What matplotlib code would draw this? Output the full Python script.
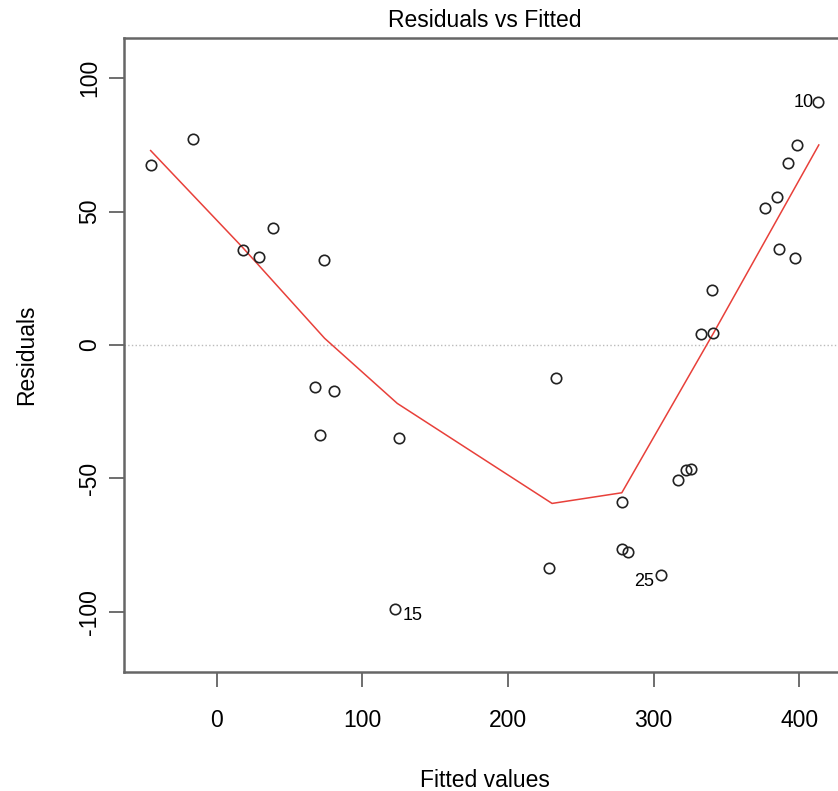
import matplotlib
matplotlib.use("Agg")
import matplotlib.pyplot as plt

plt.rcParams['font.family'] = ['Liberation Sans', 'DejaVu Sans']
plt.rcParams['axes.unicode_minus'] = False

# fitted values and residuals
fitted = [-45.5, -16.7, 17.8, 28.6, 38.2, 73.4, 67.4, 80.5, 70.9, 125.0,
          122.1, 232.7, 278.0, 316.4, 322.4, 325.6, 278.5, 282.6, 228.4, 305.0,
          340.0, 332.6, 340.9, 376.3, 385.0, 385.8, 397.1, 392.4, 398.2, 413.1]
residuals = [67.6, 77.2, 35.6, 33.1, 43.7, 31.9, -15.6, -17.1, -33.6, -34.9,
             -99.1, -12.4, -59.0, -50.6, -46.9, -46.6, -76.3, -77.5, -83.6, -86.4,
             20.6, 4.0, 4.4, 51.4, 55.6, 36.0, 32.6, 68.4, 75.0, 91.0]

# smoother line
smooth_x = [-45.5, 17.8, 74.0, 123.9, 230.2, 278.1, 341.0, 413.4]
smooth_y = [72.9, 36.5, 2.5, -21.9, -59.4, -55.4, 4.4, 75.0]

# labelled observations
obs_labels = ["10", "15", "25"]
obs_x = [413.1, 122.1, 305.0]
obs_y = [91.0, -99.1, -86.4]

fig = plt.figure(figsize=(8.38, 7.91), dpi=100)
ax = fig.add_axes([124 / 838, 119 / 791, (845 - 124) / 838, 634 / 791])

ax.axhline(0, color='#bbbbbb', linestyle=':', linewidth=1.0, zorder=1)
ax.plot(smooth_x, smooth_y, color='#e8403a', linewidth=1.1, zorder=2)
ax.plot(fitted, residuals, linestyle='none', marker='o', markersize=7.5,
        markerfacecolor='none', markeredgecolor='#222222', markeredgewidth=1.2, zorder=3)

offsets = {"10": (-3, 0, 'right', 'center'),
           "15": (6, -4.5, 'left', 'center'),
           "25": (-5, -4, 'right', 'center')}
for lab, x, y in zip(obs_labels, obs_x, obs_y):
    dx, dy, ha, va = offsets[lab]
    ax.annotate(lab, (x, y), xytext=(dx, dy), textcoords='offset points',
                ha=ha, va=va, fontsize=13)

ax.set_xlim(-63.8, 431.4)
ax.set_ylim(-122.6, 115.1)
ax.set_xticks([0, 100, 200, 300, 400])
ax.set_yticks([-100, -50, 0, 50, 100])
ax.tick_params(direction='out', length=10.5, width=1.2, color='#555555',
               labelsize=16.5)
ax.tick_params(axis='x', pad=16)
ax.tick_params(axis='y', pad=6)
for lab in ax.get_yticklabels():
    lab.set_rotation(90)
    lab.set_va('center')
for sp in ax.spines.values():
    sp.set_color('#666666')
    sp.set_linewidth(1.8)

ax.set_title('Residuals vs Fitted', fontsize=16.5, pad=8)
ax.set_xlabel('Fitted values', fontsize=16.5, labelpad=27)
ax.set_ylabel('Residuals', fontsize=16.5, labelpad=29)

fig.savefig('out.png', dpi=100)
